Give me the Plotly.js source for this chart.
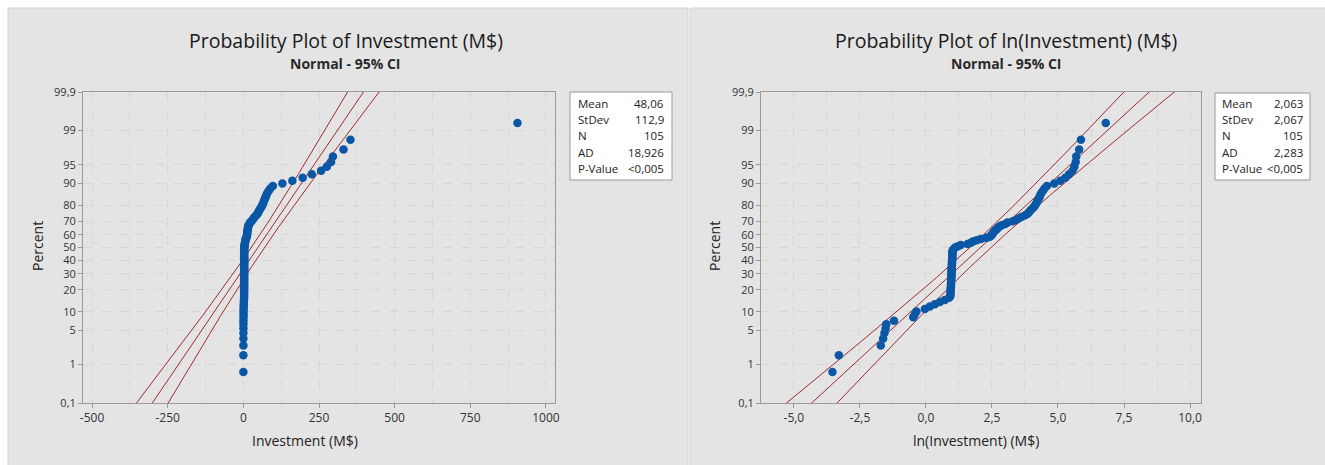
<!DOCTYPE html>
<html>
<head>
<meta charset="utf-8">
<script src="https://cdn.plot.ly/plotly-3.0.1.min.js"></script>
<style>
html,body{margin:0;padding:0;background:#fff;}
#chart{width:1325px;height:465px;}
</style>
</head>
<body>
<div id="chart"></div>
<script>
// ---------- DATA ----------
// Investment values in M$, sorted ascending (N = 105)
const investment = [
  0.029, 0.037, 0.181, 0.198, 0.208, 0.217, 0.223, 0.298, 0.619, 0.657,
  0.698, 0.96, 1.16, 1.40, 1.70, 2.05, 2.41, 2.53, 2.53, 2.54,
  2.55, 2.56, 2.57, 2.58, 2.59, 2.59, 2.60, 2.60, 2.61, 2.62,
  2.63, 2.63, 2.64, 2.64, 2.65, 2.66, 2.66, 2.67, 2.68, 2.68,
  2.69, 2.69, 2.70, 2.70, 2.71, 2.71, 2.72, 2.72, 2.73, 2.74,
  2.77, 2.89, 3.03, 3.35, 3.74, 4.85, 5.47, 5.93, 6.82, 8.0,
  9.9, 11.2, 11.9, 12.3, 12.7, 13.1, 13.7, 14.6, 15.2, 16.3,
  17.6, 20.1, 22.0, 26.8, 30.6, 33.4, 37.0, 42.1, 46.5, 48.9,
  51.4, 54.1, 58.0, 61.0, 63.4, 66.0, 68.0, 70.8, 73.7, 75.9,
  79.0, 83.9, 89.1, 97.5, 129, 162, 196, 226, 257, 276,
  290, 296, 331, 354, 906
];

// Summary statistics shown in the boxes
const statLabels = ['Mean', 'StDev', 'N', 'AD', 'P-Value'];
const statsRaw = {mean: 48.06, sd: 112.9, n: 105};
const statsRawText = ['48,06', '112,9', '105', '18,926', '<0,005'];
const statsLn = {mean: 2.063, sd: 2.067, n: 105};
const statsLnText = ['2,063', '2,067', '105', '2,283', '<0,005'];

// Tick values / labels
const percentTicks = [0.1, 1, 5, 10, 20, 30, 40, 50, 60, 70, 80, 90, 95, 99, 99.9];
const percentLabels = ['0,1', '1', '5', '10', '20', '30', '40', '50', '60', '70', '80', '90', '95', '99', '99,9'];
const xTicksRaw = [-500, -250, 0, 250, 500, 750, 1000];
const xLabelsRaw = ['-500', '-250', '0', '250', '500', '750', '1000'];
const xTicksLn = [-5, -2.5, 0, 2.5, 5, 7.5, 10];
const xLabelsLn = ['-5,0', '-2,5', '0,0', '2,5', '5,0', '7,5', '10,0'];

const titleRaw = 'Probability Plot of Investment (M$)';
const titleLn = 'Probability Plot of ln(Investment) (M$)';
const subTitle = 'Normal - 95% CI';
const xTitleRaw = 'Investment (M$)';
const xTitleLn = 'ln(Investment) (M$)';
const yTitle = 'Percent';

// ---------- helpers ----------
function invNorm(p) {
  const a = [-3.969683028665376e+01, 2.209460984245205e+02, -2.759285104469687e+02,
             1.383577518672690e+02, -3.066479806614716e+01, 2.506628277459239e+00];
  const b = [-5.447609879822406e+01, 1.615858368580409e+02, -1.556989798598866e+02,
             6.680131188771972e+01, -1.328068155288572e+01];
  const c = [-7.784894002430293e-03, -3.223964580411365e-01, -2.400758277161838e+00,
             -2.549671010115819e+00, 4.374664141464968e+00, 2.938163982698783e+00];
  const d = [7.784695709041462e-03, 3.224671290700398e-01, 2.445134137142996e+00,
             3.754408661907416e+00];
  const pl = 0.02425, ph = 1 - pl;
  let q, r;
  if (p < pl) {
    q = Math.sqrt(-2 * Math.log(p));
    return (((((c[0]*q+c[1])*q+c[2])*q+c[3])*q+c[4])*q+c[5]) /
           ((((d[0]*q+d[1])*q+d[2])*q+d[3])*q+1);
  } else if (p <= ph) {
    q = p - 0.5; r = q * q;
    return (((((a[0]*r+a[1])*r+a[2])*r+a[3])*r+a[4])*r+a[5])*q /
           (((((b[0]*r+b[1])*r+b[2])*r+b[3])*r+b[4])*r+1);
  } else {
    q = Math.sqrt(-2 * Math.log(1 - p));
    return -(((((c[0]*q+c[1])*q+c[2])*q+c[3])*q+c[4])*q+c[5]) /
            ((((d[0]*q+d[1])*q+d[2])*q+d[3])*q+1);
  }
}

const N = investment.length;
// median-rank plotting positions (Benard), converted to normal scores
const zScores = investment.map((v, i) => invNorm((i + 1 - 0.3) / (N + 0.4)));
const lnInvestment = investment.map(v => Math.log(v));
const percentPos = percentTicks.map(p => invNorm(p / 100));

// Fitted line and 95% CI from displayed mean / stdev
function fitLines(st) {
  const zs = [], mid = [], lo = [], hi = [];
  for (let z = -3.6; z <= 3.6001; z += 0.05) {
    const se = st.sd * Math.sqrt((1 + z * z / 2) / st.n);
    zs.push(z);
    mid.push(st.mean + st.sd * z);
    lo.push(st.mean + st.sd * z - 1.96 * se);
    hi.push(st.mean + st.sd * z + 1.96 * se);
  }
  return {zs, mid, lo, hi};
}

const W = 1325, H = 465;
const px = x => x / W;
const py = y => (H - y) / H;

const lineColor = '#a02a2a';
const dotColor = '#0a57a6';
const font = 'Open Sans, Noto Sans, sans-serif';

function panelTraces(xs, st, xa, ya) {
  const f = fitLines(st);
  const tr = [];
  ['lo', 'mid', 'hi'].forEach(k => {
    tr.push({x: f[k], y: f.zs, xaxis: xa, yaxis: ya, mode: 'lines', type: 'scatter',
      line: {color: lineColor, width: 1}, hoverinfo: 'skip', showlegend: false});
  });
  tr.push({x: xs, y: zScores, xaxis: xa, yaxis: ya, mode: 'markers', type: 'scatter',
    marker: {color: dotColor, size: 8.5, symbol: 'circle', line: {width: 0}}, showlegend: false});
  return tr;
}

const data = [
  ...panelTraces(investment, statsRaw, 'x', 'y'),
  ...panelTraces(lnInvestment, statsLn, 'x2', 'y2')
];

const gridStyle = {showgrid: true, gridcolor: '#d6d6d6', griddash: 'dash', gridwidth: 1};
const axisLine = {showline: true, mirror: true, linecolor: '#9a9a9a', linewidth: 1,
  ticks: 'outside', ticklen: 4, tickcolor: '#9a9a9a', zeroline: false,
  tickfont: {family: font, size: 12, color: '#333'}};

const yDom = [py(403), py(92)];
function yAxis(anchor) {
  return Object.assign({}, axisLine, gridStyle, {
    domain: yDom, anchor: anchor, range: [invNorm(0.001), invNorm(0.999)],
    tickmode: 'array', tickvals: percentPos, ticktext: percentLabels, fixedrange: true,
    tickfont: {family: font, size: 11, color: '#333'}
  });
}
function xAxis(dom, range, tv, tt, minorStep, anchor) {
  return Object.assign({}, axisLine, gridStyle, {
    domain: dom, anchor: anchor, range: range,
    tickmode: 'array', tickvals: tv, ticktext: tt,
    minor: {tickmode: 'linear', dtick: minorStep, tick0: 0, showgrid: true,
            gridcolor: '#d6d6d6', griddash: 'dash', ticks: ''}
  });
}

function statsAnnotations(x0, x1, rows, values) {
  const out = [];
  statLabels.forEach((lab, i) => {
    out.push({xref: 'paper', yref: 'paper', x: px(x0), y: py(rows[i]), xanchor: 'left', yanchor: 'middle',
      text: lab, showarrow: false, font: {family: font, size: 11.5, color: '#222'}});
    out.push({xref: 'paper', yref: 'paper', x: px(x1), y: py(rows[i]), xanchor: 'right', yanchor: 'middle',
      text: values[i], showarrow: false, font: {family: font, size: 11.5, color: '#222'}});
  });
  return out;
}
const rowsY = [104, 119.5, 135.5, 152, 168.5];

const annotations = [
  {xref: 'paper', yref: 'paper', x: px(346), y: py(40), text: titleRaw, showarrow: false,
   xanchor: 'center', yanchor: 'middle', font: {family: font, size: 19.5, color: '#1a1a1a'}},
  {xref: 'paper', yref: 'paper', x: px(345), y: py(63), text: '<b>' + subTitle + '</b>', showarrow: false,
   xanchor: 'center', yanchor: 'middle', font: {family: font, size: 14, color: '#2a2a2a'}},
  {xref: 'paper', yref: 'paper', x: px(1006), y: py(40), text: titleLn, showarrow: false,
   xanchor: 'center', yanchor: 'middle', font: {family: font, size: 19.5, color: '#1a1a1a'}},
  {xref: 'paper', yref: 'paper', x: px(1006), y: py(63), text: '<b>' + subTitle + '</b>', showarrow: false,
   xanchor: 'center', yanchor: 'middle', font: {family: font, size: 14, color: '#2a2a2a'}},
  {xref: 'paper', yref: 'paper', x: px(305), y: py(440), text: xTitleRaw, showarrow: false,
   xanchor: 'center', yanchor: 'middle', font: {family: font, size: 14, color: '#222'}},
  {xref: 'paper', yref: 'paper', x: px(976), y: py(440), text: xTitleLn, showarrow: false,
   xanchor: 'center', yanchor: 'middle', font: {family: font, size: 14, color: '#222'}},
  {xref: 'paper', yref: 'paper', x: px(37), y: py(246), text: yTitle, showarrow: false, textangle: -90,
   xanchor: 'center', yanchor: 'middle', font: {family: font, size: 14, color: '#222'}},
  {xref: 'paper', yref: 'paper', x: px(714), y: py(246), text: yTitle, showarrow: false, textangle: -90,
   xanchor: 'center', yanchor: 'middle', font: {family: font, size: 14, color: '#222'}},
  ...statsAnnotations(576, 666, rowsY, statsRawText),
  ...statsAnnotations(1220, 1305, rowsY, statsLnText)
];

const shapes = [
  {type: 'rect', xref: 'paper', yref: 'paper', x0: px(8), x1: px(688), y0: -0.01, y1: py(8),
   fillcolor: '#e4e4e4', line: {color: '#d2d2d2', width: 1}, layer: 'below'},
  {type: 'rect', xref: 'paper', yref: 'paper', x0: px(690), x1: 1.01, y0: -0.01, y1: py(8),
   fillcolor: '#e4e4e4', line: {color: '#d2d2d2', width: 1}, layer: 'below'},
  {type: 'rect', xref: 'paper', yref: 'paper', x0: px(570), x1: px(672), y0: py(180), y1: py(92),
   fillcolor: '#ffffff', line: {color: '#9a9a9a', width: 1}},
  {type: 'rect', xref: 'paper', yref: 'paper', x0: px(1215), x1: px(1310), y0: py(180), y1: py(93),
   fillcolor: '#ffffff', line: {color: '#9a9a9a', width: 1}}
];

const layout = {
  width: W, height: H,
  margin: {l: 0, r: 0, t: 0, b: 0},
  paper_bgcolor: '#ffffff', plot_bgcolor: '#ffffff',
  showlegend: false,
  font: {family: font, color: '#222'},
  xaxis: xAxis([px(83), px(555)], [-530, 1030], xTicksRaw, xLabelsRaw, 125, 'y'),
  yaxis: yAxis('x'),
  xaxis2: xAxis([px(761), px(1201)], [-6.245, 10.415], xTicksLn, xLabelsLn, 1.25, 'y2'),
  yaxis2: yAxis('x2'),
  annotations: annotations,
  shapes: shapes
};

Plotly.newPlot('chart', data, layout, {displayModeBar: false, staticPlot: true});
</script>
</body>
</html>
